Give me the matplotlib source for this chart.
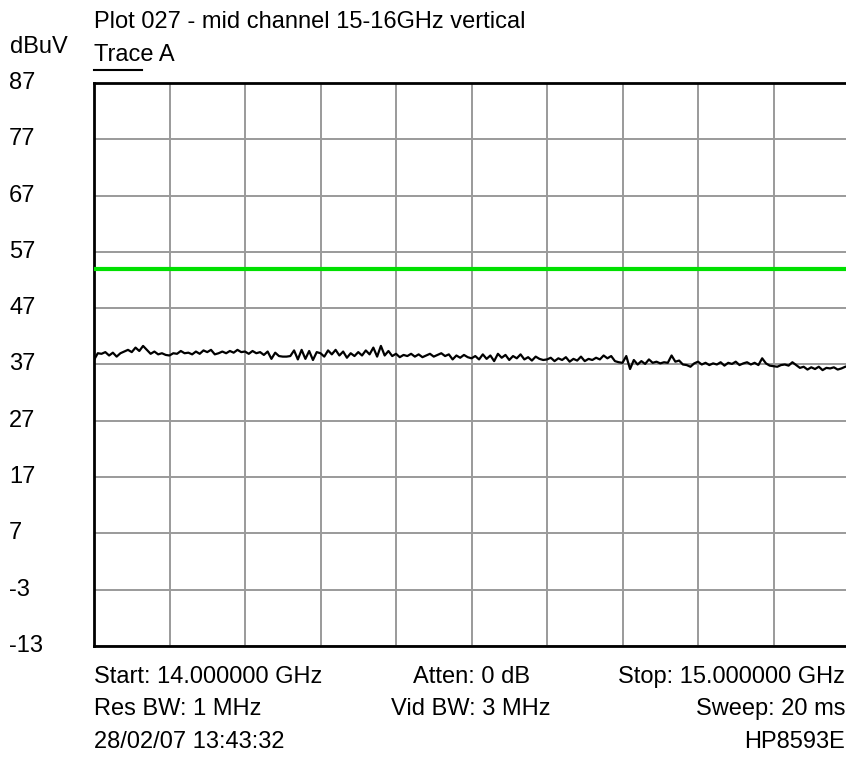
import matplotlib
matplotlib.use('Agg')
import matplotlib.pyplot as plt
import matplotlib.transforms as mtransforms
import numpy as np

plt.rcParams['font.family'] = ['Liberation Sans', 'DejaVu Sans']

W, H = 846, 758

# sweep settings
start_ghz = 14.0
stop_ghz = 15.0
ref_level = 87
y_bottom = -13
limit_dbuv = 54

# measured trace (dBuV), one value per sweep point
trace_a = [
    37.8, 39.0, 38.9, 39.2, 38.6, 39.1, 38.4, 39.0, 39.3, 39.6,
    39.2, 40.0, 39.4, 40.3, 39.6, 38.9, 39.3, 38.8, 39.0, 38.7,
    38.6, 39.0, 38.9, 39.4, 39.0, 39.1, 38.8, 39.3, 38.9, 39.5,
    39.2, 39.6, 38.8, 39.0, 39.3, 39.0, 39.4, 39.1, 39.6, 39.2,
    39.3, 38.9, 39.4, 39.0, 39.2, 38.7, 39.3, 38.0, 39.1, 38.5,
    38.4, 38.4, 38.5, 39.5, 37.9, 39.6, 38.0, 39.4, 37.8, 39.2,
    39.0, 38.4, 39.5, 38.8, 39.6, 38.6, 39.3, 38.2, 39.0, 38.5,
    39.2, 38.6, 39.5, 38.8, 40.0, 38.4, 40.3, 38.6, 39.4, 38.5,
    38.9, 38.3, 38.7, 38.5, 38.9, 38.4, 38.8, 38.3, 38.6, 38.9,
    38.4, 38.7, 39.0, 38.5, 38.8, 37.9, 38.6, 38.2, 38.7, 38.3,
    38.1, 38.5, 37.9, 38.8, 38.0, 38.6, 37.6, 38.9, 38.2, 38.7,
    37.8, 38.5, 38.1, 38.8, 37.9, 38.3, 37.7, 38.4, 38.0, 37.8,
    37.9, 38.2, 37.6, 38.1, 37.8, 38.3, 37.5, 38.0, 37.7, 38.4,
    37.6, 38.0, 37.8, 38.2, 37.9, 38.6, 38.1, 38.5, 37.6, 37.4,
    37.3, 38.5, 36.2, 37.8, 37.0, 37.6, 37.1, 37.9, 37.3, 37.5,
    37.2, 37.4, 37.3, 38.6, 37.5, 37.7, 37.0, 36.9, 36.6, 37.2,
    37.5, 37.0, 37.3, 36.9, 37.2, 37.0, 37.4, 36.8, 37.3, 37.1,
    37.5, 36.9, 37.2, 37.4, 37.0, 37.3, 36.9, 38.1, 37.2, 36.8,
    36.7, 36.6, 36.9, 37.0, 36.8, 37.4, 36.9, 36.4, 36.6, 36.1,
    36.5, 36.2, 36.6, 36.0, 36.4, 36.3, 36.5, 36.1, 36.3, 36.6,
    36.8,
]

y_labels = [87, 77, 67, 57, 47, 37, 27, 17, 7, -3, -13]

footer_left = ["Start: 14.000000 GHz", "Res BW: 1 MHz", "28/02/07 13:43:32"]
footer_mid = ["Atten: 0 dB", "Vid BW: 3 MHz", ""]
footer_right = ["Stop: 15.000000 GHz", "Sweep: 20 ms", "HP8593E"]


def fx(px):
    return px / W


def fy(py):
    return 1 - py / H


fig = plt.figure(figsize=(W / 100, H / 100), dpi=100)
# right border of the graticule sits just past the image edge
ax = fig.add_axes([fx(94), fy(646), (849 - 94) / W, (646 - 83) / H])

freq = np.linspace(start_ghz, stop_ghz, len(trace_a))

ax.set_xlim(start_ghz, stop_ghz)
ax.set_ylim(y_bottom, ref_level)
ax.set_xticks(np.linspace(start_ghz, stop_ghz, 11))
ax.set_yticks(y_labels)
ax.grid(True, color='#9a9a9a', linewidth=1.4)
ax.tick_params(length=0, labelleft=False, labelbottom=False)
for sp in ax.spines.values():
    sp.set_linewidth(2)
    sp.set_color('black')

ax.axhline(limit_dbuv, color='#00e000', linewidth=3, zorder=3)
ax.plot(freq, trace_a, color='black', linewidth=1.6, zorder=4)

fs = 17

# dB labels on the left, tied to the data scale
trans = mtransforms.blended_transform_factory(fig.transFigure, ax.transData)
for v in y_labels:
    ax.text(fx(9), v, str(v), transform=trans, ha='left', va='center',
            fontsize=fs, clip_on=False)

fig.text(fx(94), fy(28), "Plot 027 - mid channel 15-16GHz vertical",
         ha='left', va='baseline', fontsize=fs)
fig.text(fx(10), fy(53), "dBuV", ha='left', va='baseline', fontsize=fs)
fig.text(fx(94), fy(61), "Trace A", ha='left', va='baseline', fontsize=fs)
fig.add_artist(plt.Line2D([fx(94), fx(142)], [fy(70), fy(70)],
                          color='black', linewidth=1.5))

for i, py in enumerate([683, 715, 748]):
    fig.text(fx(94), fy(py), footer_left[i], ha='left', va='baseline', fontsize=fs)
    if footer_mid[i]:
        fig.text(fx(471), fy(py), footer_mid[i], ha='center', va='baseline', fontsize=fs)
    fig.text(fx(845), fy(py), footer_right[i], ha='right', va='baseline', fontsize=fs)

fig.savefig('out.png', dpi=100)
